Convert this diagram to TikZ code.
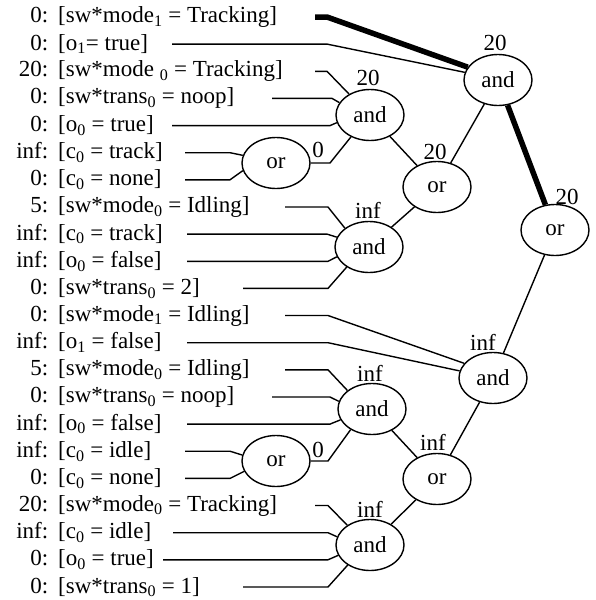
\documentclass[tikz,border=0pt]{standalone}
\usepackage{fontspec}
\setmainfont{Liberation Serif}
\usetikzlibrary{shapes.geometric}
\newcommand{\pre}[1]{\makebox[38pt][r]{#1}\hspace{10pt}}
\newcommand{\sub}[1]{\textsubscript{#1}}
\begin{document}
\begin{tikzpicture}[x=1pt,y=-1pt,
  txt/.style={font=\fontsize{23}{27}\selectfont,inner sep=0pt},
  lab/.style={txt,anchor=west},
  gate/.style={txt,draw,ellipse,line width=1.4pt,minimum width=68pt,minimum height=51pt},
  wire/.style={line width=1.4pt},
  heavy/.style={line width=5.5pt}]
\useasboundingbox (0,0) rectangle (596,600);
% gates
\node[gate] (A1) at (498,80) {and};
\node[gate] (A2) at (370,115) {and};
\node[gate] (O1) at (276,163) {or};
\node[gate] (O2) at (437,187) {or};
\node[gate] (A3) at (369,247) {and};
\node[gate] (O3) at (555,230) {or};
\node[gate] (A4) at (493,378) {and};
\node[gate] (A5) at (372,409) {and};
\node[gate] (O4) at (276,461) {or};
\node[gate] (O5) at (437,479) {or};
\node[gate] (A6) at (370,545) {and};
% costs
\node[txt] (cA1) at (495,43) {20};
\node[txt] (cA2) at (368,78) {20};
\node[txt] (cO1) at (318,150) {0};
\node[txt] (cO2) at (435,152) {20};
\node[txt] (cA3) at (368,210) {inf};
\node[txt] (cO3) at (567,197) {20};
\node[txt] (cA4) at (483,342) {inf};
\node[txt] (cA5) at (370,373) {inf};
\node[txt] (cO4) at (318,450) {0};
\node[txt] (cO5) at (433,442) {inf};
\node[txt] (cA6) at (370,509) {inf};
% literals
\node[lab] (L1) at (10,17) {\pre{0:}[sw*mode\sub{1} = Tracking]};
\node[lab] (L2) at (10,44.1) {\pre{0:}[o\sub{1}= true]};
\node[lab] (L3) at (10,71.3) {\pre{20:}[sw*mode \sub{0} = Tracking]};
\node[lab] (L4) at (10,98.4) {\pre{0:}[sw*trans\sub{0} = noop]};
\node[lab] (L5) at (10,125.6) {\pre{0:}[o\sub{0} = true]};
\node[lab] (L6) at (10,152.7) {\pre{inf:}[c\sub{0} = track]};
\node[lab] (L7) at (10,179.8) {\pre{0:}[c\sub{0} = none]};
\node[lab] (L8) at (10,207) {\pre{5:}[sw*mode\sub{0} = Idling]};
\node[lab] (L9) at (10,234.1) {\pre{inf:}[c\sub{0} = track]};
\node[lab] (L10) at (10,261.3) {\pre{inf:}[o\sub{0} = false]};
\node[lab] (L11) at (10,288.4) {\pre{0:}[sw*trans\sub{0} = 2]};
\node[lab] (L12) at (10,315.5) {\pre{0:}[sw*mode\sub{1} = Idling]};
\node[lab] (L13) at (10,342.7) {\pre{inf:}[o\sub{1} = false]};
\node[lab] (L14) at (10,369.8) {\pre{5:}[sw*mode\sub{0} = Idling]};
\node[lab] (L15) at (10,397) {\pre{0:}[sw*trans\sub{0} = noop]};
\node[lab] (L16) at (10,424.1) {\pre{inf:}[o\sub{0} = false]};
\node[lab] (L17) at (10,451.2) {\pre{inf:}[c\sub{0} = idle]};
\node[lab] (L18) at (10,478.4) {\pre{0:}[c\sub{0} = none]};
\node[lab] (L19) at (10,505.5) {\pre{20:}[sw*mode\sub{0} = Tracking]};
\node[lab] (L20) at (10,532.7) {\pre{inf:}[c\sub{0} = idle]};
\node[lab] (L21) at (10,559.8) {\pre{0:}[o\sub{0} = true]};
\node[lab] (L22) at (10,587) {\pre{0:}[sw*trans\sub{0} = 1]};
% heavy path
\draw[heavy] (L1.east -| 315,0) -- (L1.east -| 327,0) -- (A1.157);
\draw[heavy] (A1) -- (O3);
% wires
\draw[wire] (L2.east -| 172,0) -- (L2.east -| 327,0) -- (A1.167);
\draw[wire] (L3.east -| 315,0) -- (L3.east -| 327,0) -- (A2.135);
\draw[wire] (L4.east -| 272,0) -- (L4.east -| 332,0) -- (A2.158);
\draw[wire] (L5.east -| 172,0) -- (L5.east -| 330,0) -- (A2.193);
\draw[wire] (L6.east -| 185,0) -- (L6.east -| 230,0) -- (O1.167);
\draw[wire] (L7.east -| 185,0) -- (L7.east -| 230,0) -- (O1.193);
\draw[wire] (O1.east) -- (O1.east -| 330,0) -- (A2.229);
\draw[wire] (L8.east -| 285,0) -- (L8.east -| 328,0) -- (A3.142);
\draw[wire] (L9.east -| 187,0) -- (L9.east -| 327,0) -- (A3.163);
\draw[wire] (L10.east -| 187,0) -- (L10.east -| 328,0) -- (A3.197);
\draw[wire] (L11.east -| 243,0) -- (L11.east -| 328,0) -- (A3.222);
\draw[wire] (A2) -- (O2);
\draw[wire] (A3) -- (O2);
\draw[wire] (O2) -- (A1);
\draw[wire] (O3) -- (A4);
\draw[wire] (L12.east -| 285,0) -- (L12.east -| 328,0) -- (A4.153);
\draw[wire] (L13.east -| 187,0) -- (L13.east -| 328,0) -- (A4.168);
\draw[wire] (L14.east -| 285,0) -- (L14.east -| 328,0) -- (A5.143);
\draw[wire] (L15.east -| 272,0) -- (L15.east -| 330,0) -- (A5.167);
\draw[wire] (L16.east -| 187,0) -- (L16.east -| 330,0) -- (A5.199);
\draw[wire] (L17.east -| 185,0) -- (L17.east -| 230,0) -- (O4.170);
\draw[wire] (L18.east -| 185,0) -- (L18.east -| 230,0) -- (O4.198);
\draw[wire] (O4.east) -- (O4.east -| 328,0) -- (A5.224);
\draw[wire] (L19.east -| 315,0) -- (L19.east -| 328,0) -- (A6.139);
\draw[wire] (L20.east -| 173,0) -- (L20.east -| 328,0) -- (A6.166);
\draw[wire] (L21.east -| 163,0) -- (L21.east -| 328,0) -- (A6.198);
\draw[wire] (L22.east -| 243,0) -- (L22.east -| 328,0) -- (A6.222);
\draw[wire] (A5) -- (O5);
\draw[wire] (A6) -- (O5);
\draw[wire] (O5) -- (A4);
\end{tikzpicture}
\end{document}
